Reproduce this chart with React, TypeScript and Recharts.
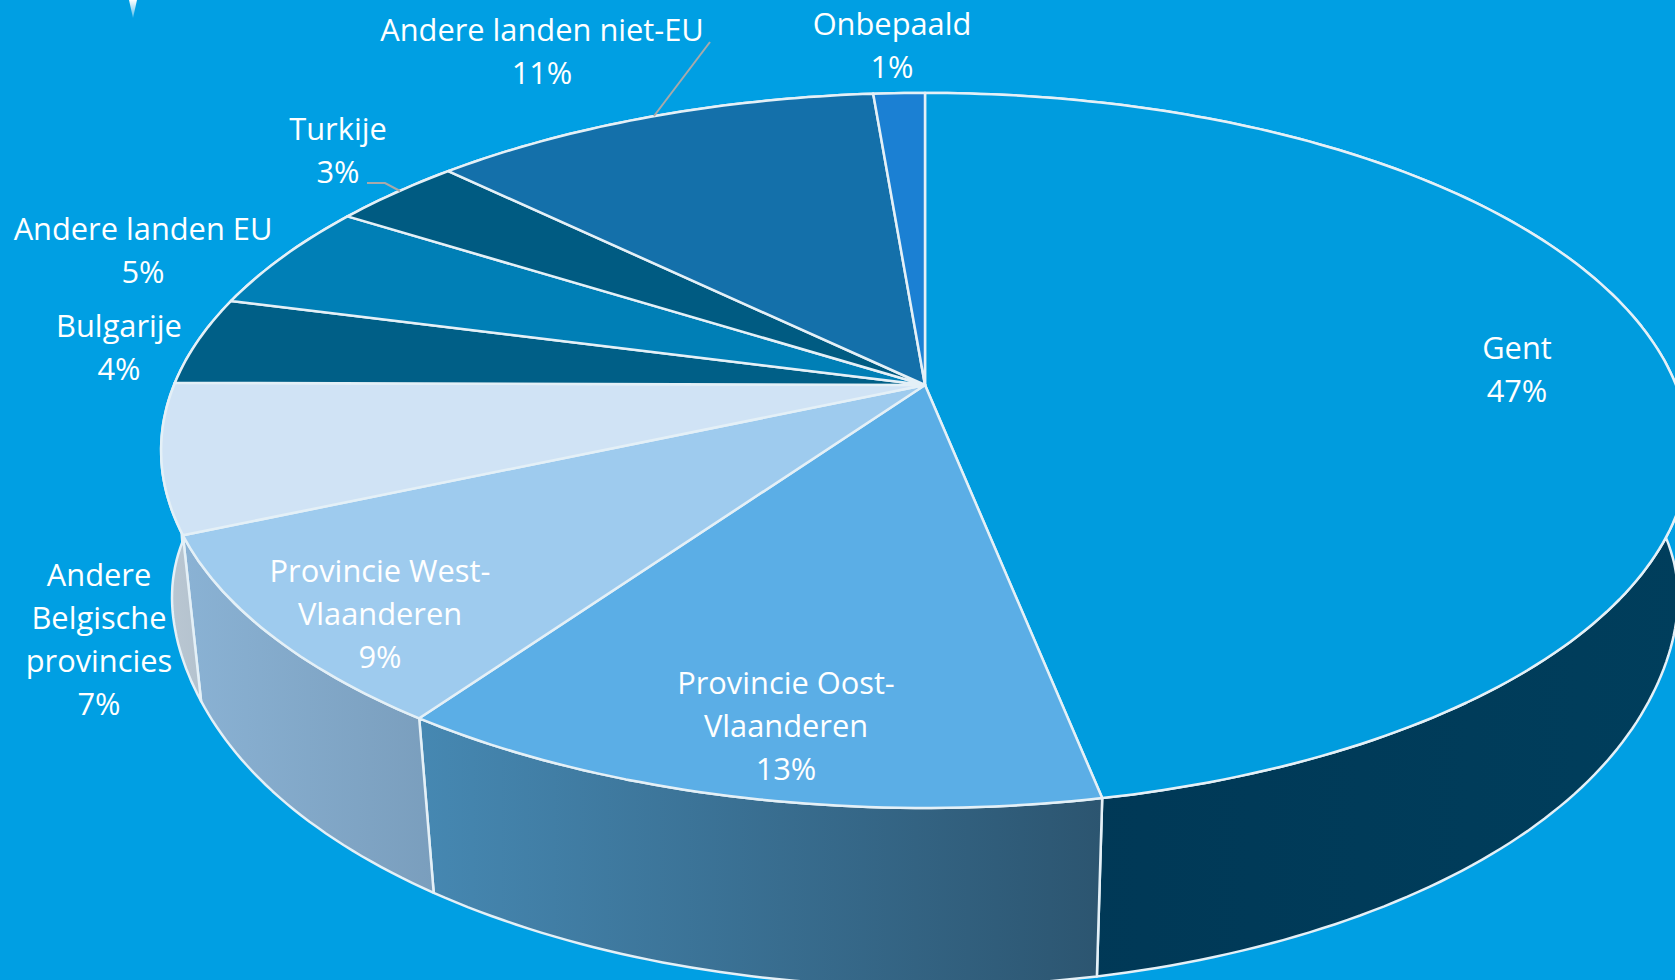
import { PieChart, Pie } from "recharts";

const names = [
  "Gent",
  "Provincie Oost-Vlaanderen",
  "Provincie West-Vlaanderen",
  "Andere Belgische provincies",
  "Bulgarije",
  "Andere landen EU",
  "Turkije",
  "Andere landen niet-EU",
  "Onbepaald",
];
const values = [46.9, 12.8, 8.7, 6.7, 4, 4.9, 3.3, 11.4, 1.3];
const chartData = names.map((name, i) => ({ name, value: values[i] }));

const labelLines: Record<string, string[]> = {
  Gent: ["Gent"],
  "Provincie Oost-Vlaanderen": ["Provincie Oost-", "Vlaanderen"],
  "Provincie West-Vlaanderen": ["Provincie West-", "Vlaanderen"],
  "Andere Belgische provincies": ["Andere", "Belgische", "provincies"],
  Bulgarije: ["Bulgarije"],
  "Andere landen EU": ["Andere landen EU"],
  Turkije: ["Turkije"],
  "Andere landen niet-EU": ["Andere landen niet-EU"],
  Onbepaald: ["Onbepaald"],
};

const topColors = ["#009CDE", "#5BAEE6", "#9ECBEE", "#D0E3F5", "#005F87", "#007FB6", "#005B82", "#1470AA", "#1B80D3"];
const wallColors = [
  ["#003755", "#003E5C"],
  ["#4688B2", "#2C5570"],
  ["#8AB2D4", "#7A9EBD"],
  ["#BBC8D3", "#B4C2CE"],
  ["#BBC8D3", "#BBC8D3"],
  ["#BBC8D3", "#BBC8D3"],
  ["#004A6B", "#004A6B"],
  ["#0F5988", "#0F5988"],
  ["#1566A8", "#1566A8"],
];

// label anchors: centre x and first baseline
const labelPos: Record<string, [number, number]> = {
  Gent: [1517, 359],
  "Provincie Oost-Vlaanderen": [786, 694],
  "Provincie West-Vlaanderen": [380, 582],
  "Andere Belgische provincies": [99, 586],
  Bulgarije: [119, 337],
  "Andere landen EU": [143, 240],
  Turkije: [338, 140],
  "Andere landen niet-EU": [542, 41],
  Onbepaald: [892, 35],
};
const leaders: Record<string, string> = {
  Turkije: "367,183 385,183 400,191",
  "Andere landen niet-EU": "710,42 654,116",
};

const BG = "#009FE3";
const EDGE = "#E4F0F7";
const LINE_H = 43;

// perspective of the tilted disc
const STRETCH_X = 751 / 345.5;
const TILT = -0.183;
const DEPTH = 161;
const DEPTH_SHRINK = 0.025;

function project(cx: number, cy: number, r: number, deg: number, low: boolean) {
  const a = (deg * Math.PI) / 180;
  const X = Math.sin(a);
  const Y = -Math.cos(a);
  // the lower rim stays a bit wider at the far left and right
  const d = 1 + TILT * Y + (low ? DEPTH_SHRINK * (1 - 0.6 * Math.pow(X, 24)) : 0);
  return [cx + (r * STRETCH_X * X) / d, cy + (r * Y + (low ? DEPTH : 0)) / d];
}

function rim(props: any, low: boolean) {
  const from = 90 - Math.max(props.startAngle, props.endAngle);
  const to = 90 - Math.min(props.startAngle, props.endAngle);
  const pts: number[][] = [];
  const steps = Math.max(2, Math.ceil(to - from));
  for (let i = 0; i <= steps; i++) {
    pts.push(project(props.cx, props.cy, props.outerRadius, from + ((to - from) * i) / steps, low));
  }
  return pts;
}

const toPath = (pts: number[][]) => pts.map((p) => p[0].toFixed(1) + "," + p[1].toFixed(1)).join(" L");

function TopSlice(props: any) {
  const idx = names.indexOf(props.name ?? props.payload?.name);
  const d = `M${props.cx},${props.cy} L${toPath(rim(props, false))} Z`;
  return <path d={d} fill={topColors[idx]} stroke={EDGE} strokeWidth={2.5} strokeLinejoin="round" />;
}

function WallSlice(props: any) {
  const idx = names.indexOf(props.name ?? props.payload?.name);
  const d = `M${toPath(rim(props, false))} L${toPath(rim(props, true).reverse())} Z`;
  return <path d={d} fill={`url(#wall${idx})`} stroke={EDGE} strokeWidth={2.5} strokeLinejoin="round" />;
}

function SliceLabel(props: any) {
  const name = props.name ?? props.payload?.name;
  const [x, y] = labelPos[name];
  const lines = [...labelLines[name], Math.round(props.value) + "%"];
  return (
    <g>
      {leaders[name] && <polyline points={leaders[name]} fill="none" stroke="#A9A9A9" strokeWidth={2} />}
      <text x={x} y={y} textAnchor="middle" fill="#FFFFFF" fontFamily="'Open Sans'" fontSize={30.8}>
        {lines.map((line, i) => (
          <tspan key={i} x={x} y={y + i * LINE_H}>
            {line}
          </tspan>
        ))}
      </text>
    </g>
  );
}

export default function App() {
  return (
    <div style={{ position: "absolute", left: 0, top: 0, width: 1675, height: 980, background: BG, overflow: "hidden" }}>
      <PieChart width={1675} height={980} margin={{ top: 0, right: 0, bottom: 0, left: 0 }}>
        <defs>
          {wallColors.map((c, i) => (
            <linearGradient key={i} id={`wall${i}`} x1="0" y1="0" x2="1" y2="0">
              <stop offset="0%" stopColor={c[0]} />
              <stop offset="100%" stopColor={c[1]} />
            </linearGradient>
          ))}
          <linearGradient id="spike" x1="0" y1="0" x2="0" y2="1">
            <stop offset="0%" stopColor="#FFFFFF" />
            <stop offset="100%" stopColor="#FFFFFF" stopOpacity={0.3} />
          </linearGradient>
        </defs>
        <polygon points="129,0 137,0 133,18" fill="url(#spike)" />
        <Pie
          data={chartData}
          dataKey="value"
          nameKey="name"
          cx={925}
          cy={385}
          outerRadius={345.5}
          startAngle={90}
          endAngle={-270}
          shape={WallSlice}
          isAnimationActive={false}
        />
        <Pie
          data={chartData}
          dataKey="value"
          nameKey="name"
          cx={925}
          cy={385}
          outerRadius={345.5}
          startAngle={90}
          endAngle={-270}
          shape={TopSlice}
          label={SliceLabel}
          labelLine={false}
          isAnimationActive={false}
        />
      </PieChart>
    </div>
  );
}
